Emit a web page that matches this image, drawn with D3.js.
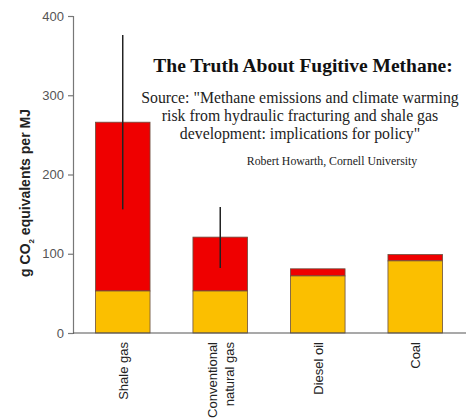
<!DOCTYPE html>
<html>
<head>
<meta charset="utf-8">
<script src="https://cdn.jsdelivr.net/npm/d3@7"></script>
<style>
  body { margin: 0; background: #fff; }
  svg { display: block; }
</style>
</head>
<body>
<svg></svg>
<script>
const categories = ["Shale gas", "Conventional natural gas", "Diesel oil", "Coal"];
const directCO2 = [53, 53, 72, 91];
const totals = [266, 121, 81, 99];
const errLow = [156, 82, null, null];
const errHigh = [376, 159, null, null];
const yTicks = [0, 100, 200, 300, 400];

const width = 466;
const height = 419;
const margin = { top: 16, right: 0, bottom: 86, left: 73 };

const svg = d3.select("svg").attr("width", width).attr("height", height);

const x = d3.scaleBand()
  .domain(categories)
  .range([73, 465])
  .paddingInner(0.44)
  .paddingOuter(0.23);

const y = d3.scaleLinear()
  .domain([0, 400])
  .range([height - margin.bottom, margin.top]);

// bars: CO2 part (yellow) and methane part (red) on top
const g = svg.append("g");

g.selectAll("rect.red")
  .data(categories)
  .enter()
  .append("rect")
  .attr("class", "red")
  .attr("x", (d) => x(d))
  .attr("width", x.bandwidth())
  .attr("y", (d, i) => y(totals[i]))
  .attr("height", (d, i) => y(directCO2[i]) - y(totals[i]))
  .attr("fill", "#ef0000")
  .attr("stroke", "#6a5040")
  .attr("stroke-width", 0.8);

g.selectAll("rect.yel")
  .data(categories)
  .enter()
  .append("rect")
  .attr("class", "yel")
  .attr("x", (d) => x(d))
  .attr("width", x.bandwidth())
  .attr("y", (d, i) => y(directCO2[i]))
  .attr("height", (d, i) => y(0) - y(directCO2[i]))
  .attr("fill", "#fbbf00")
  .attr("stroke", "#6a5040")
  .attr("stroke-width", 0.8);

// error bars
g.selectAll("line.err")
  .data(categories.filter((d, i) => errLow[i] != null))
  .enter()
  .append("line")
  .attr("class", "err")
  .attr("x1", (d) => x(d) + x.bandwidth() / 2)
  .attr("x2", (d) => x(d) + x.bandwidth() / 2)
  .attr("y1", (d) => y(errLow[categories.indexOf(d)]))
  .attr("y2", (d) => y(errHigh[categories.indexOf(d)]))
  .attr("stroke", "#222")
  .attr("stroke-width", 1.5);

// y axis
const yAxis = svg.append("g")
  .attr("transform", `translate(${margin.left},0)`)
  .call(d3.axisLeft(y).tickValues(yTicks).tickSize(5).tickPadding(4));
yAxis.select(".domain").attr("stroke", "#777").attr("stroke-width", 1.2);
yAxis.selectAll(".tick line").attr("stroke", "#777").attr("stroke-width", 1.2);
yAxis.selectAll(".tick text")
  .attr("fill", "#555")
  .attr("font-family", "Liberation Sans, Arial, sans-serif")
  .attr("font-size", 13);

// x baseline
svg.append("line")
  .attr("x1", margin.left)
  .attr("x2", width)
  .attr("y1", y(0))
  .attr("y2", y(0))
  .attr("stroke", "#555")
  .attr("stroke-width", 1.2);

// x labels (rotated)
const xLabels = [["Shale gas"], ["Conventional", "natural gas"], ["Diesel oil"], ["Coal"]];
categories.forEach((c, i) => {
  const cx = x(c) + x.bandwidth() / 2;
  const lines = xLabels[i];
  lines.forEach((t, j) => {
    const off = (j - (lines.length - 1) / 2) * 17;
    svg.append("text")
      .attr("transform", `translate(${cx + off + 5},${y(0) + 9}) rotate(-90)`)
      .attr("text-anchor", "end")
      .attr("font-family", "Liberation Sans, Arial, sans-serif")
      .attr("font-size", 13)
      .attr("fill", "#222")
      .text(t);
  });
});

// y axis label
const yl = svg.append("text")
  .attr("transform", "translate(30,193) rotate(-90)")
  .attr("text-anchor", "middle")
  .attr("font-family", "Liberation Sans, Arial, sans-serif")
  .attr("font-size", 14)
  .attr("font-weight", "bold")
  .attr("fill", "#222");
yl.append("tspan").text("g CO");
yl.append("tspan").attr("font-size", 8).attr("dy", 4).text("2");
yl.append("tspan").attr("dy", -4).text(" equivalents per MJ");

// titles
svg.append("text")
  .attr("x", 303)
  .attr("y", 72)
  .attr("text-anchor", "middle")
  .attr("font-family", "Liberation Serif, Times New Roman, serif")
  .attr("font-weight", "bold")
  .attr("font-size", 19.5)
  .attr("fill", "#111")
  .text("The Truth About Fugitive Methane:");

const sourceLines = [
  "Source: \"Methane emissions and climate warming",
  "risk from hydraulic fracturing and shale gas",
  "development: implications for policy\""
];
svg.selectAll("text.src")
  .data(sourceLines)
  .enter()
  .append("text")
  .attr("class", "src")
  .attr("x", 300)
  .attr("y", (d, i) => 103 + i * 18)
  .attr("text-anchor", "middle")
  .attr("font-family", "Liberation Serif, Times New Roman, serif")
  .attr("font-size", 15.8)
  .attr("fill", "#222")
  .text((d) => d);

svg.append("text")
  .attr("x", 332)
  .attr("y", 165)
  .attr("text-anchor", "middle")
  .attr("font-family", "Liberation Serif, Times New Roman, serif")
  .attr("font-size", 11.8)
  .attr("fill", "#222")
  .text("Robert Howarth, Cornell University");
</script>
</body>
</html>
